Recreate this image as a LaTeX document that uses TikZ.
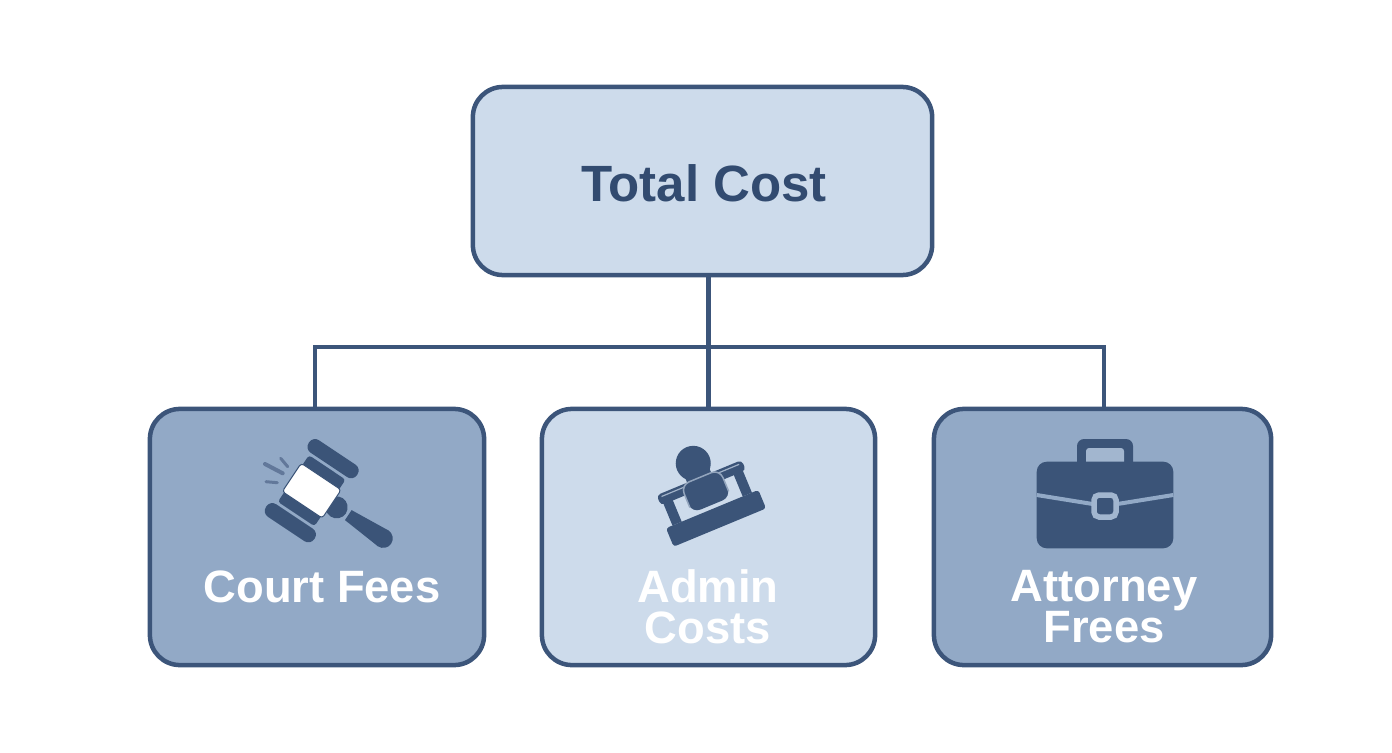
\documentclass[tikz,border=0pt]{standalone}
\usepackage{fontspec}
\setmainfont{Liberation Sans}
\usetikzlibrary{positioning}

\definecolor{edgeblue}{RGB}{60,85,122}
\definecolor{iconblue}{RGB}{59,84,120}
\definecolor{titleblue}{RGB}{50,75,112}
\definecolor{paleblue}{RGB}{205,219,235}
\definecolor{midblue}{RGB}{146,169,198}
\definecolor{sparkblue}{RGB}{98,120,154}

\tikzset{
    costbox/.style={draw=edgeblue, line width=0.045cm, rounded corners=0.3cm, inner sep=0pt},
    costline/.style={draw=edgeblue, line width=0.045cm},
    titletext/.style={text=titleblue, font=\bfseries\fontsize{14.5}{16}\selectfont},
    labeltext/.style={text=white, align=center, font=\bfseries\fontsize{12.9}{11.7}\selectfont}
}

\begin{document}
\begin{tikzpicture}[x=0.01cm, y=-0.01cm]
    % Units are pixels of the reference, y pointing down
    \useasboundingbox (0,0) rectangle (1392,752);

    % Boxes
    \node[costbox, fill=paleblue, minimum width=4.59cm, minimum height=1.88cm] (total) at (702.5,181) {};
    \node[costbox, fill=midblue, minimum width=3.34cm, minimum height=2.56cm] (court) at (317,537) {};
    \node[costbox, fill=paleblue, minimum width=3.33cm, minimum height=2.56cm] (admin) at (708.5,537) {};
    \node[costbox, fill=midblue, minimum width=3.37cm, minimum height=2.56cm] (attorney) at (1102.5,537) {};

    % Connectors
    \coordinate (bus) at (708.5,347);
    \draw[costline] (total.south -| admin.north) -- (admin.north);
    \draw[costline] ([xshift=-0.02cm]court.north) |- (bus) -| ([xshift=0.015cm]attorney.north);

    % Labels
    \node[titletext] (totallabel) at (704,183) {Total Cost};
    \node[labeltext] (courtlabel) at (322,587) {Court Fees};
    \node[labeltext] (adminlabel) at (708,607) {Admin\\Costs};
    \node[labeltext] (attorneylabel) at (1104,607) {Attorney\\Frees};

    % Gavel
    \begin{scope}[shift={(311.7,490.7)}, rotate=-33.7]
        \fill[iconblue, rounded corners=0.07cm] (-29,-46) rectangle (29,-31);
        \fill[iconblue, rounded corners=0.07cm] (-29,31) rectangle (29,46);
        \fill[iconblue, rounded corners=0.03cm] (-22,-28) rectangle (22,28);
        \fill[iconblue] (30,0) circle (11);
        \fill[iconblue] (44,-6) -- (86,-9.5) -- (86,9.5) -- (44,6) -- cycle;
        \fill[iconblue] (86,0) circle (9.5);
        \filldraw[fill=white, draw=iconblue, line width=0.01cm, rounded corners=0.03cm] (-24,-17) rectangle (24,17);
    \end{scope}
    \draw[sparkblue, line width=0.04cm, line cap=round] (265,464) -- (282.7,473.3);
    \draw[sparkblue, line width=0.03cm, line cap=round] (280.7,458.3) -- (287.7,466.7);
    \draw[sparkblue, line width=0.03cm, line cap=round] (266,481.7) -- (277.3,482.7);

    % Stamp
    \begin{scope}[shift={(716,518.3)}, rotate=22.5]
        \fill[iconblue, rounded corners=0.03cm] (-50,-10) rectangle (50,10);
        \fill[iconblue] (-43,-38) rectangle (-33,-10);
        \fill[iconblue] (33,-38) rectangle (43,-10);
        \fill[iconblue, rounded corners=0.04cm] (-46,-44) rectangle (46,-33);
        \draw[paleblue!70!iconblue, line width=0.012cm] (-42,-41) -- (42,-41);
        \fill[iconblue] (0,-59.5) circle (17.5);
        \fill[iconblue] (-13,-52) rectangle (13,-38);
        % Grip, dark all round with a light rim along the top
        \fill[iconblue, rounded corners=0.09cm] (-20,-44) rectangle (22,-14);
        \draw[paleblue!60!iconblue, line width=0.015cm, rounded corners=0.09cm] (-20,-20) -- (-20,-44) -- (22,-44) -- (22,-20);
    \end{scope}

    % Briefcase
    \fill[iconblue, rounded corners=0.07cm] (1077,439) rectangle (1133,470);
    \fill[midblue!85!white, rounded corners=0.03cm] (1086,448) rectangle (1124,470);
    \fill[iconblue, rounded corners=0.1cm] (1036.7,461.7) rectangle (1173.3,548.3);
    \draw[midblue, line width=0.04cm] (1036.7,495) -- (1105,506) -- (1173.3,495);
    \filldraw[fill=iconblue, draw=midblue!85!white, line width=0.055cm, rounded corners=0.05cm] (1094,495) rectangle (1116,517);
\end{tikzpicture}
\end{document}
